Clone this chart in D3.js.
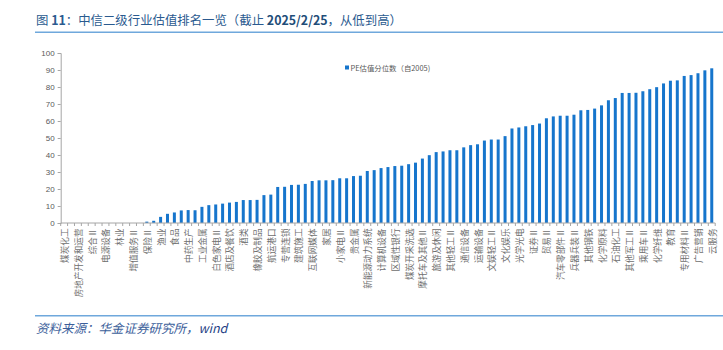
<!DOCTYPE html>
<html>
<head>
<meta charset="utf-8">
<script src="https://cdn.jsdelivr.net/npm/d3@7"></script>
<style>
  html, body { margin: 0; padding: 0; background: #ffffff; }
  svg { display: block; }
</style>
</head>
<body>
<div id="chart"></div>
<script>
// ---------- data ----------
const titleText = "图 11：中信二级行业估值排名一览（截止 2025/2/25，从低到高）";
const sourceText = "资料来源：华金证券研究所，";
const sourceTail = "wind";
const legendLabel = "PE估值分位数（自2005)";

const categories = [
  "煤炭化工", "石油开采Ⅱ", "房地产开发和运营", "房地产服务", "综合Ⅱ", "油服工程",
  "电源设备", "普钢", "林业", "种植业", "增值服务Ⅱ", "畜牧业",
  "保险Ⅱ", "全国性股份制银行Ⅱ", "渔业", "国有大型银行Ⅱ", "食品", "饮料",
  "中药生产", "化学制药", "工业金属", "特材", "白色家电Ⅱ", "黑色家电Ⅱ",
  "酒店及餐饮", "一般零售", "酒类", "农产品加工", "橡胶及制品", "塑料及制品",
  "航运港口", "公路铁路", "专营连锁", "物流", "建筑施工", "建筑装修Ⅱ",
  "互联网媒体", "媒体", "家居", "造纸Ⅱ", "小家电Ⅱ", "照明电工及其他",
  "贵金属", "稀有金属", "新能源动力系统", "电网设备", "计算机设备", "发电及电网",
  "区域性银行", "多元金融", "煤炭开采洗选", "环保及公用事业", "摩托车及其他Ⅱ", "商用车",
  "旅游及休闲", "综合服务", "其他轻工Ⅱ", "包装印刷", "通信设备", "电信运营",
  "运输设备", "通用设备", "文娱轻工Ⅱ", "纺织制造", "文化娱乐", "品牌服饰",
  "光学光电", "元器件", "证券Ⅱ", "航空机场", "贸易Ⅱ", "汽车销售及服务Ⅱ",
  "汽车零部件Ⅱ", "金属制品Ⅱ", "兵器兵装Ⅱ", "结构材料", "其他钢铁", "装修材料",
  "化学原料", "化学制品", "石油化工", "农用化工", "其他军工Ⅱ", "航空航天",
  "乘用车Ⅱ", "专用机械", "化学纤维", "医疗器械", "教育", "医疗服务",
  "专用材料Ⅱ", "消费电子", "广告营销", "半导体", "云服务"
];

const peValues = [
  0, 0, 0, 0, 0, 0, 0, 0, 0, 0, 0, 0,
  0.8, 1.3, 3.6, 5.4, 6.2, 7.4, 7.6, 7.5, 9.5, 10.5,
  10.9, 11.4, 12.0, 12.4, 13.5, 13.5, 13.6, 16.4, 16.7, 21.2,
  21.3, 22.4, 22.5, 23.0, 24.7, 25.1, 25.1, 25.2, 26.3, 26.3,
  27.6, 27.8, 30.6, 31.1, 32.3, 32.9, 33.5, 33.7, 34.6, 35.5,
  37.9, 39.9, 41.7, 42.1, 42.8, 42.8, 44.5, 45.8, 46.3, 48.5,
  49.1, 49.1, 51.1, 55.6, 56.2, 56.9, 57.6, 58.5, 61.6, 62.7,
  63.1, 63.1, 63.7, 66.3, 66.5, 67.3, 69.2, 72.2, 73.5, 76.5,
  76.5, 76.6, 77.5, 78.7, 79.9, 82.1, 83.7, 83.9, 86.5, 87.0,
  88.1, 89.8, 91.0
];

const yTicks = [0, 10, 20, 30, 40, 50, 60, 70, 80, 90, 100];

// ---------- layout ----------
const W = 723, H = 350;
const plotLeft = 60.7, plotRight = 715.2, plotTop = 53, plotBottom = 223;
const barColor = "#1675CC";
const axisColor = "#A6A6A6";
const textGray = "#595959";
const labelGray = "#6E6E6E";
const cjk = "'Noto Sans CJK SC', 'Noto Sans', sans-serif";

const svg = d3.select("#chart").append("svg")
  .attr("width", W).attr("height", H);

// title
const title = svg.append("text")
  .attr("x", 36).attr("y", 25)
  .attr("font-family", cjk)
  .attr("font-size", 12.4)
  .attr("fill", "#2A5A8F");
title.append("tspan").text("图 ");
title.append("tspan").attr("font-weight", "bold").text("11");
title.append("tspan").text("：中信二级行业估值排名一览（截止 ");
title.append("tspan").attr("font-weight", "bold").attr("fill", "#1F4E79").text("2025/2/25");
title.append("tspan").text("，从低到高）");

svg.append("line")
  .attr("x1", 35).attr("x2", W).attr("y1", 32.3).attr("y2", 32.3)
  .attr("stroke", "#6FA8DC").attr("stroke-width", 1.6);

// footer
svg.append("line")
  .attr("x1", 35).attr("x2", W).attr("y1", 315.7).attr("y2", 315.7)
  .attr("stroke", "#6FA8DC").attr("stroke-width", 1.6);

const src = svg.append("text")
  .attr("x", 36).attr("y", 333)
  .attr("font-family", cjk)
  .attr("font-size", 12.5)
  .attr("font-style", "italic")
  .attr("fill", "#3B5E9A");
src.append("tspan").text(sourceText);
src.append("tspan").attr("fill", "#1F3F85").text(sourceTail);

// scales
const x = d3.scaleBand()
  .domain(categories)
  .range([plotLeft, plotRight])
  .paddingInner(0).paddingOuter(0);

const y = d3.scaleLinear()
  .domain([0, 100])
  .range([plotBottom, plotTop]);

const barW = 3;

// bars
svg.append("g").selectAll("rect")
  .data(categories.map((c, i) => ({ c, v: peValues[i] })))
  .join("rect")
  .attr("x", d => x(d.c) + x.bandwidth() / 2 - barW / 2)
  .attr("width", barW)
  .attr("y", d => y(d.v))
  .attr("height", d => y(0) - y(d.v))
  .attr("fill", barColor);

// y axis
const yAxis = svg.append("g")
  .attr("transform", `translate(${plotLeft},0)`)
  .call(d3.axisLeft(y).tickValues(yTicks).tickSize(3).tickPadding(3));
yAxis.select(".domain").attr("stroke", axisColor);
yAxis.selectAll(".tick line").attr("stroke", axisColor);
yAxis.selectAll(".tick text")
  .attr("font-family", "'Liberation Sans', Arial, sans-serif")
  .attr("font-size", 8)
  .attr("fill", textGray);

// x axis (ticks at category boundaries)
const xAxisG = svg.append("g");
xAxisG.append("line")
  .attr("x1", plotLeft).attr("x2", plotRight)
  .attr("y1", plotBottom).attr("y2", plotBottom)
  .attr("stroke", axisColor);
const boundaries = categories.map(c => x(c)).concat([x(categories[categories.length - 1]) + x.step()]);
xAxisG.selectAll("line.tk")
  .data(boundaries)
  .join("line")
  .attr("class", "tk")
  .attr("x1", d => d).attr("x2", d => d)
  .attr("y1", plotBottom).attr("y2", plotBottom + 3)
  .attr("stroke", axisColor);

// x labels (every other category)
xAxisG.selectAll("text")
  .data(categories.filter((c, i) => i % 2 === 0))
  .join("text")
  .attr("transform", d => `translate(${x(d) + x.bandwidth() / 2},228.5) rotate(-90)`)
  .attr("text-anchor", "end")
  .attr("dominant-baseline", "central")
  .attr("font-family", cjk)
  .attr("font-size", 8.6)
  .attr("fill", labelGray)
  .text(d => d);

// legend
const lg = svg.append("g");
lg.append("rect")
  .attr("x", 345).attr("y", 65.5).attr("width", 4).attr("height", 4)
  .attr("fill", barColor);
lg.append("text")
  .attr("x", 350.5).attr("y", 67.6)
  .attr("dominant-baseline", "central")
  .attr("font-family", cjk)
  .attr("font-size", 7.4)
  .attr("fill", textGray)
  .text(legendLabel);
</script>
</body>
</html>
